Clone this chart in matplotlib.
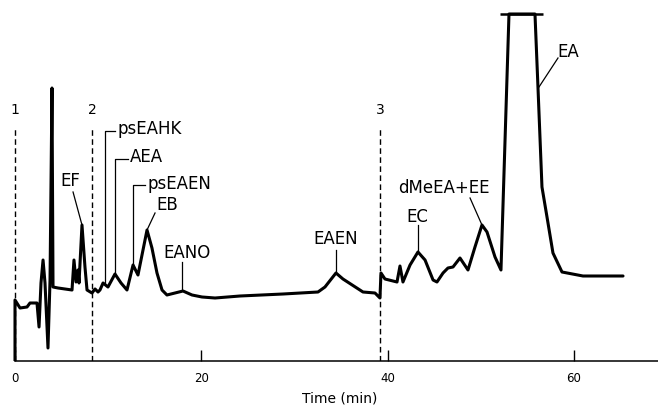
import matplotlib
matplotlib.use("Agg")
import matplotlib.pyplot as plt

# ---- data ----
time_min = [0.00, 0.00, 0.54, 1.29, 1.61, 2.36, 2.58, 2.79, 3.01, 3.22, 3.54, 3.76,
            3.97, 4.08, 4.62, 6.12, 6.33, 6.55, 6.76, 6.87, 7.19, 7.51, 7.73, 8.26,
            8.59, 8.91, 9.12, 9.45, 9.98, 10.73, 11.38, 12.02, 12.67, 13.20, 14.17,
            14.70, 15.24, 15.78, 16.31, 17.17, 18.03, 19.00, 20.07, 21.47, 24.15,
            28.77, 32.52, 33.27, 34.45, 35.20, 37.35, 38.64, 39.17, 39.28, 39.71,
            41.00, 41.32, 41.64, 42.40, 43.25, 44.01, 44.87, 45.29, 45.94, 46.47,
            47.01, 47.76, 48.62, 49.37, 50.12, 50.66, 51.52, 52.16, 53.02, 55.81,
            56.13, 56.56, 57.10, 57.74, 58.71, 60.96, 65.26]
signal = [0, 61, 53, 54, 58, 58, 34, 78, 101, 78, 13, 81,
          273, 74, 73, 71, 101, 79, 91, 78, 136, 94, 71, 68,
          72, 69, 71, 78, 74, 87, 78, 71, 96, 86, 131,
          113, 88, 71, 66, 68, 70, 66, 64, 63, 65,
          67, 69, 74, 88, 82, 69, 68, 63, 88, 82,
          79, 95, 79, 96, 109, 101, 81, 79, 88, 93,
          94, 103, 91, 114, 136, 129, 104, 91, 347, 347,
          274, 174, 144, 108, 89, 85, 85]

clip_start, clip_end, clip_level = 52.06, 56.67, 347

marker_times = [0.0, 8.26, 39.17]
marker_labels = ["1", "2", "3"]
marker_top = 234

xticks = [0, 20, 40, 60]

# peak labels: text, text position, leader path (time, signal)
peak_labels = [
    ("EF",       (5.90, 180), "center", [(6.23, 169), (7.19, 136)]),
    ("psEAHK",   (10.95, 232), "left",  [(10.73, 230), (9.66, 230), (9.66, 78)]),
    ("AEA",      (12.34, 204), "left",  [(12.13, 202), (10.73, 202), (10.73, 87)]),
    ("psEAEN",   (14.27, 177), "left",  [(13.95, 176), (12.67, 176), (12.67, 97)]),
    ("EB",       (16.31, 156), "center", [(15.03, 148), (14.17, 131)]),
    ("EANO",     (18.46, 108), "center", [(17.92, 99), (17.92, 71)]),
    ("EAEN",     (34.45, 122), "center", [(34.45, 111), (34.45, 88)]),
    ("dMeEA+EE", (46.05, 173), "center", [(48.84, 163), (50.12, 136)]),
    ("EC",       (43.15, 144), "center", [(43.25, 136), (43.25, 109)]),
    ("EA",       (59.35, 309), "center", [(58.28, 303), (56.24, 274)]),
]

# ---- figure ----
W, H = 658, 407
fig = plt.figure(figsize=(W / 100, H / 100), dpi=100)
ax = fig.add_axes([0, 46 / H, 1, 361 / H])
ppm = 9.317
ax.set_xlim(-15 / ppm, (W - 15) / ppm)
ax.set_ylim(0, 361)

ax.plot(time_min, signal, color="black", lw=2.2, solid_joinstyle="round",
        solid_capstyle="round", zorder=3)
ax.hlines(clip_level, clip_start, clip_end, color="black", lw=1.8, zorder=3)

for t, lab in zip(marker_times, marker_labels):
    ax.plot([t, t], [0, marker_top], color="black", lw=1.0,
            linestyle=(0, (4, 2.5)), zorder=2)
    ax.text(t, marker_top + 17, lab, ha="center", va="center", fontsize=10)

for text, (tx, ty), ha, path in peak_labels:
    ax.text(tx, ty, text, ha=ha, va="center", fontsize=12)
    xs = [p[0] for p in path]
    ys = [p[1] for p in path]
    ax.plot(xs, ys, color="black", lw=0.9, zorder=2)

for s in ["left", "right", "top"]:
    ax.spines[s].set_visible(False)
ax.spines["bottom"].set_bounds(0, (W - 15) / ppm)
ax.spines["bottom"].set_linewidth(1.1)
ax.set_yticks([])
ax.set_xticks(xticks)
ax.set_xticklabels([str(x) for x in xticks])
ax.tick_params(axis="x", direction="in", length=8, width=1.0, pad=8,
               labelsize=8.5)
ax.patch.set_visible(False)

fig.text(340 / W, 1 - 398 / H, "Time (min)", ha="center", va="center",
         fontsize=10)

fig.savefig("out.png", dpi=100)
